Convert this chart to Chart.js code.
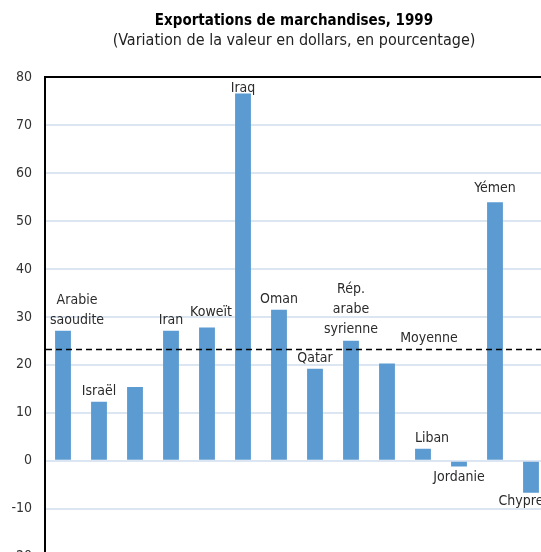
<!DOCTYPE html>
<html>
<head>
<meta charset="utf-8">
<script src="https://cdn.jsdelivr.net/npm/chart.js@4.4.1/dist/chart.umd.min.js"></script>
<style>
  html, body { margin: 0; padding: 0; background: #fff; overflow: hidden; }
  #wrap { width: 541px; height: 552px; overflow: hidden; position: relative; }
  #box { position: absolute; left: 0; top: 0; width: 588px; height: 578px; }
</style>
</head>
<body>
<div id="wrap"><div id="box"><canvas id="chart"></canvas></div></div>
<script>
const FONT = '"Liberation Sans Narrow", "DejaVu Sans Condensed", "Arial Narrow", sans-serif';

// data
const countries = [
  ['Arabie', 'saoudite'], ['Israël'], [''], ['Iran'], ['Koweït'], ['Iraq'], ['Oman'],
  ['Qatar'], ['Rép.', 'arabe', 'syrienne'], [''], ['Liban'], ['Jordanie'], ['Yémen'], ['Chypre']
];
const exportGrowth = [27.1, 12.3, 15.4, 27.1, 27.8, 76.6, 31.5, 19.2, 25.0, 20.3, 2.5, -1.2, 53.9, -6.7];
const average = 23.2;
const averageLabel = 'Moyenne';
const yTicks = { min: -20, max: 80, step: 10 };

// small nudges of the bar labels, [dx, dy] in pixels
const labelNudge = [[14, 0], [0, 0], [0, 0], [0, 0], [4, -4], [0, 6], [0, 0],
  [0, 0], [0, -1], [0, 0], [9, 0], [0, 0], [0, -3], [-10, -2]];

const barLabels = {
  id: 'barLabels',
  afterDatasetsDraw(chart) {
    const { ctx, chartArea } = chart;
    const meta = chart.getDatasetMeta(0);
    const y = chart.scales.y;
    ctx.save();
    ctx.font = '14px ' + FONT;
    ctx.fillStyle = '#2b2b2b';
    ctx.textAlign = 'center';
    meta.data.forEach((bar, i) => {
      const lines = countries[i];
      const [dx, dy] = labelNudge[i];
      const x = bar.x + dx;
      if (exportGrowth[i] >= 0) {
        ctx.textBaseline = 'alphabetic';
        lines.slice().reverse().forEach((t, k) => {
          ctx.fillText(t, x, bar.y - 7 + dy - k * 20);
        });
      } else {
        ctx.textBaseline = 'top';
        lines.forEach((t, k) => {
          ctx.fillText(t, x, bar.y + 4 + dy + k * 20);
        });
      }
    });

    // average line
    const ay = y.getPixelForValue(average);
    ctx.strokeStyle = '#000';
    ctx.lineWidth = 1.3;
    ctx.setLineDash([6, 4]);
    ctx.beginPath();
    ctx.moveTo(chartArea.left + 1, ay);
    ctx.lineTo(chartArea.right, ay);
    ctx.stroke();
    ctx.setLineDash([]);
    ctx.textBaseline = 'alphabetic';
    const mx = meta.data[10].x + 6;
    ctx.fillText(averageLabel, mx, ay - 7);
    ctx.restore();
  }
};

new Chart(document.getElementById('chart'), {
  type: 'bar',
  data: {
    labels: countries.map(c => c.join(' ')),
    datasets: [{
      data: exportGrowth,
      backgroundColor: '#5b9bd1',
      barPercentage: 0.44,
      categoryPercentage: 1
    }]
  },
  options: {
    responsive: true,
    maintainAspectRatio: false,
    animation: false,
    layout: { padding: { left: 0, right: 0, top: 5, bottom: 10.5 } },
    plugins: {
      legend: { display: false },
      tooltip: { enabled: false },
      title: {
        display: true,
        text: 'Exportations de marchandises, 1999',
        color: '#000',
        font: { family: FONT, size: 15, weight: 'bold' },
        padding: { top: 7, bottom: 1 }
      },
      subtitle: {
        display: true,
        text: '(Variation de la valeur en dollars, en pourcentage)',
        color: '#222',
        font: { family: FONT, size: 16 },
        padding: { top: 0, bottom: 27 }
      }
    },
    scales: {
      x: { display: false },
      y: {
        min: yTicks.min,
        max: yTicks.max,
        afterFit: s => { s.width = 45; },
        border: { display: true, color: '#000', width: 2 },
        grid: {
          drawTicks: false,
          lineWidth: 2,
          color: c => c.tick && c.tick.value === yTicks.max ? '#000' : '#dce6f2'
        },
        ticks: {
          stepSize: yTicks.step,
          padding: 13,
          color: '#333',
          font: { family: FONT, size: 14 }
        }
      },
      // empty right-hand space so the plot runs off the picture's edge
      yRight: {
        position: 'right',
        display: true,
        afterFit: s => { s.width = 39; },
        grid: { display: false },
        border: { display: false },
        ticks: { display: false }
      }
    }
  },
  plugins: [barLabels]
});
</script>
</body>
</html>
